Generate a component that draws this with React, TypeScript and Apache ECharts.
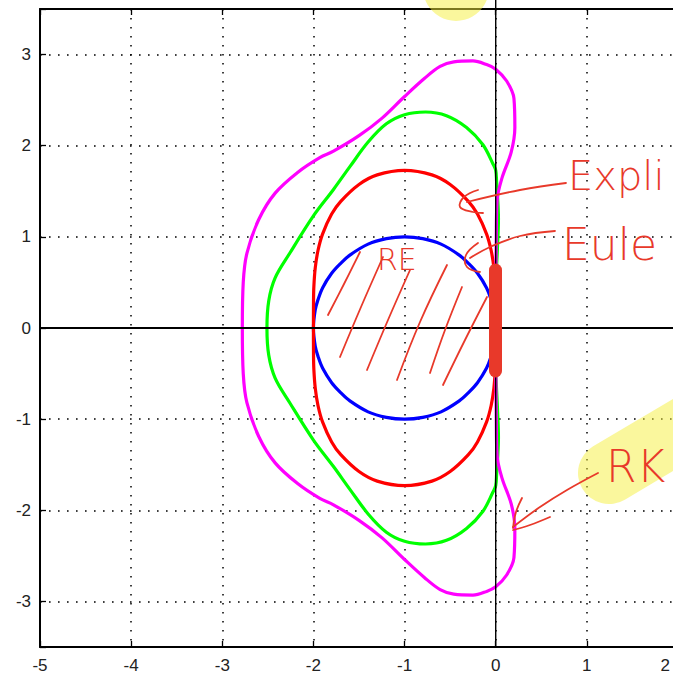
import React, { useEffect, useRef } from "react";
import * as echarts from "echarts";

// Stability region boundaries |R(z)| = 1 (x = Re z, y = Im z)
const xTicks = [-5, -4, -3, -2, -1, 0, 1, 2];
const yTicks = [-3, -2, -1, 0, 1, 2, 3];

const eulerCurve = [
  [0, 0], [-0.02, 0.2], [-0.05, 0.31], [-0.1, 0.44], [-0.2, 0.6], [-0.3, 0.71], [-0.4, 0.8],
  [-0.6, 0.92], [-0.8, 0.98], [-1, 1], [-1.2, 0.98], [-1.4, 0.92], [-1.6, 0.8], [-1.7, 0.71],
  [-1.8, 0.6], [-1.9, 0.44], [-1.95, 0.31], [-1.98, 0.2], [-2, 0], [-1.98, -0.2], [-1.95, -0.31],
  [-1.9, -0.44], [-1.8, -0.6], [-1.7, -0.71], [-1.6, -0.8], [-1.4, -0.92], [-1.2, -0.98], [-1, -1],
  [-0.8, -0.98], [-0.6, -0.92], [-0.4, -0.8], [-0.3, -0.71], [-0.2, -0.6], [-0.1, -0.44],
  [-0.05, -0.31], [-0.02, -0.2], [0, 0],
];

const rk2Curve = [
  [0, 0], [-0.001, 0.3], [-0.005, 0.46], [-0.02, 0.66], [-0.05, 0.85], [-0.1, 1.03], [-0.2, 1.25],
  [-0.3, 1.39], [-0.5, 1.575], [-0.7, 1.68], [-1, 1.73], [-1.3, 1.68], [-1.5, 1.575], [-1.7, 1.39],
  [-1.8, 1.25], [-1.9, 1.03], [-1.95, 0.85], [-1.98, 0.66], [-1.995, 0.46], [-1.999, 0.3], [-2, 0],
  [-1.999, -0.3], [-1.995, -0.46], [-1.98, -0.66], [-1.95, -0.85], [-1.9, -1.03], [-1.8, -1.25],
  [-1.7, -1.39], [-1.5, -1.575], [-1.3, -1.68], [-1, -1.73], [-0.7, -1.68], [-0.5, -1.575],
  [-0.3, -1.39], [-0.2, -1.25], [-0.1, -1.03], [-0.05, -0.85], [-0.02, -0.66], [-0.005, -0.46],
  [-0.001, -0.3], [0, 0],
];

const rk3Curve = [
  [0, 0], [0.003, 0.5], [0.02, 0.9], [0.03, 1.2], [0.02, 1.45], [0.01, 1.6], [0, 1.73], [-0.03, 1.8],
  [-0.14, 2.01], [-0.32, 2.2], [-0.54, 2.33], [-0.77, 2.37], [-1.0, 2.34], [-1.2, 2.24],
  [-1.4, 2.04], [-1.6, 1.77], [-1.78, 1.52], [-2.0, 1.23], [-2.26, 0.82], [-2.42, 0.55],
  [-2.49, 0.3], [-2.51, 0], [-2.49, -0.3], [-2.42, -0.55], [-2.26, -0.82], [-2.0, -1.23],
  [-1.78, -1.52], [-1.6, -1.77], [-1.4, -2.04], [-1.2, -2.24], [-1.0, -2.34], [-0.77, -2.37],
  [-0.54, -2.33], [-0.32, -2.2], [-0.14, -2.01], [-0.03, -1.8], [0, -1.73], [0.01, -1.6],
  [0.02, -1.45], [0.03, -1.2], [0.02, -0.9], [0.003, -0.5], [0, 0],
];

const rk4Curve = [
  [0, 0], [0.002, 0.5], [0.006, 1.0], [0.015, 1.4], [0.07, 1.65], [0.17, 1.93], [0.21, 2.2],
  [0.2, 2.52], [0.12, 2.71], [0, 2.84], [-0.1, 2.89], [-0.25, 2.93], [-0.46, 2.92], [-0.61, 2.87],
  [-0.78, 2.74], [-1.0, 2.54], [-1.25, 2.3], [-1.5, 2.11], [-1.78, 1.94], [-1.93, 1.87],
  [-2.17, 1.71], [-2.42, 1.48], [-2.6, 1.19], [-2.73, 0.82], [-2.77, 0.5], [-2.78, 0],
  [-2.77, -0.5], [-2.73, -0.82], [-2.6, -1.19], [-2.42, -1.48], [-2.17, -1.71], [-1.93, -1.87],
  [-1.78, -1.94], [-1.5, -2.11], [-1.25, -2.3], [-1.0, -2.54], [-0.78, -2.74], [-0.61, -2.87],
  [-0.46, -2.92], [-0.25, -2.93], [-0.1, -2.89], [0, -2.84], [0.12, -2.71], [0.2, -2.52],
  [0.21, -2.2], [0.17, -1.93], [0.07, -1.65], [0.015, -1.4], [0.006, -1.0], [0.002, -0.5], [0, 0],
];

const realAxisLine = [[-5, 0], [2, 0]];
const imagAxisLine = [[0, -3.5], [0, 3.6]];

const INK = "#e8392a";
const HIGHLIGHT = "rgba(245,240,60,0.5)";
const HAND = '"DejaVu Sans", sans-serif';

export default function App() {
  const ref = useRef<HTMLDivElement>(null);

  useEffect(() => {
    if (!ref.current) return;
    const chart = echarts.init(ref.current, undefined, { renderer: "svg" });

    const dotted = { color: "#000", type: [1.6, 7.4] as any, width: 1.5 };
    const curve = (name: string, data: number[][], color: string) => ({
      name,
      type: "line",
      data,
      showSymbol: false,
      symbol: "none",
      smooth: 0.35,
      silent: true,
      lineStyle: { color, width: 3.2 },
    });

    const handLine = (pts: number[][], w = 1.8) => ({
      type: "polyline",
      shape: { points: pts, smooth: 0.4 },
      style: { stroke: INK, lineWidth: w, fill: null, lineCap: "round", lineJoin: "round" },
      z: 100,
    });

    const axisFont = '"Liberation Sans", Arial, sans-serif';
    const maxX = xTicks[xTicks.length - 1];

    chart.setOption({
      animation: false,
      backgroundColor: "#fff",
      grid: { left: 40, top: 9, width: 638, height: 638, containLabel: false, outerBoundsMode: "none" },
      xAxis: [
        {
          type: "value", min: xTicks[0], max: maxX, interval: 1,
          position: "bottom",
          axisLine: { show: true, onZero: false, lineStyle: { color: "#000", width: 2 } },
          axisTick: { show: true, inside: true, length: 6, lineStyle: { color: "#000", width: 1.3 } },
          axisLabel: {
            color: "#222", fontSize: 17, fontFamily: axisFont, margin: 10,
            formatter: (v: number) => (v === maxX ? "{edge|" + v + "}" : String(v)),
            rich: { edge: { color: "#222", fontSize: 17, fontFamily: axisFont, padding: [0, 8, 0, 0] } },
            alignMaxLabel: "right",
          },
          splitLine: { show: true, lineStyle: dotted },
        },
        {
          type: "value", min: xTicks[0], max: maxX, interval: 1,
          position: "top",
          axisLine: { show: true, onZero: false, lineStyle: { color: "#000", width: 2 } },
          axisTick: { show: true, inside: true, length: 6, lineStyle: { color: "#000", width: 1.3 } },
          axisLabel: { show: false },
          splitLine: { show: false },
        },
      ],
      yAxis: [
        {
          type: "value", min: -3.5, max: 3.5, splitNumber: 7,
          position: "left",
          axisLine: { show: true, onZero: false, lineStyle: { color: "#000", width: 2 } },
          axisTick: { show: true, inside: true, length: 6, lineStyle: { color: "#000", width: 1.3 } },
          axisLabel: {
            color: "#222", fontSize: 17, fontFamily: axisFont, margin: 9,
            formatter: (v: number) => (yTicks.includes(v) ? String(v) : ""),
          },
          splitLine: { show: true, lineStyle: dotted },
        },
        {
          type: "value", min: -3.5, max: 3.5, splitNumber: 7,
          position: "right",
          axisLine: { show: true, onZero: false, lineStyle: { color: "#000", width: 2 } },
          axisTick: { show: false },
          axisLabel: { show: false },
          splitLine: { show: false },
        },
      ],
      series: [
        curve("Euler", eulerCurve, "#0000ff"),
        curve("RK2", rk2Curve, "#ff0000"),
        curve("RK3", rk3Curve, "#00ff00"),
        curve("RK4", rk4Curve, "#ff00ff"),
        {
          type: "line", data: realAxisLine, symbol: "none", silent: true,
          lineStyle: { color: "#000", width: 2 }, z: 5,
        },
        {
          type: "line", data: imagAxisLine, symbol: "none", silent: true, clip: false,
          lineStyle: { color: "#000", width: 1.4 }, z: 5,
        },
      ],
      graphic: [
        // yellow highlighter marks
        { type: "circle", shape: { cx: 456, cy: -12, r: 33 }, style: { fill: HIGHLIGHT }, z: 90 },
        {
          type: "line", shape: { x1: 609, y1: 473, x2: 705, y2: 416 },
          style: { stroke: HIGHLIGHT, lineWidth: 62, lineCap: "round" }, z: 90,
        },
        // thick marker on imaginary axis
        {
          type: "line", shape: { x1: 495.5, y1: 270, x2: 495.5, y2: 371 },
          style: { stroke: INK, lineWidth: 13, lineCap: "round" }, z: 100,
        },
        // hatching
        handLine([[360, 252], [344, 284], [328, 315]]),
        handLine([[383, 257], [361, 307], [340, 357]]),
        handLine([[410, 270], [388, 320], [367, 370]]),
        handLine([[447, 265], [420, 322], [397, 380]]),
        handLine([[462, 287], [445, 330], [430, 373]]),
        handLine([[487, 297], [465, 340], [443, 385]]),
        // arrows
        handLine([[566, 183], [520, 190], [467, 202]]),
        handLine([[478, 190], [464, 197], [460, 207], [473, 212], [483, 213]]),
        handLine([[555, 231], [520, 236], [490, 247], [470, 258]]),
        handLine([[478, 243], [466, 255], [467, 267], [480, 272]]),
        handLine([[598, 473], [567, 490], [540, 507], [513, 527]]),
        handLine([[522, 498], [516, 512], [513, 528]]),
        handLine([[550, 517], [530, 525], [513, 530]]),
        // handwritten labels (cut off at the right edge in the original)
        {
          type: "text", x: 568, y: 176, z: 100,
          style: { text: "Expli", fill: INK, font: `200 40px ${HAND}`, textVerticalAlign: "middle" },
        },
        {
          type: "text", x: 562, y: 244, z: 100,
          style: { text: "Eule", fill: INK, font: `200 44px ${HAND}`, textVerticalAlign: "middle" },
        },
        {
          type: "text", x: 606, y: 466, z: 100,
          style: { text: "RK", fill: INK, font: `200 44px ${HAND}`, textVerticalAlign: "middle" },
        },
        {
          type: "text", x: 377, y: 259, z: 100,
          style: { text: "RE", fill: INK, font: `200 30px ${HAND}`, textVerticalAlign: "middle" },
        },
      ],
    });

    return () => chart.dispose();
  }, []);

  return (
    <div
      ref={ref}
      style={{ position: "absolute", left: 0, top: 0, width: 673, height: 679, overflow: "hidden" }}
    />
  );
}
